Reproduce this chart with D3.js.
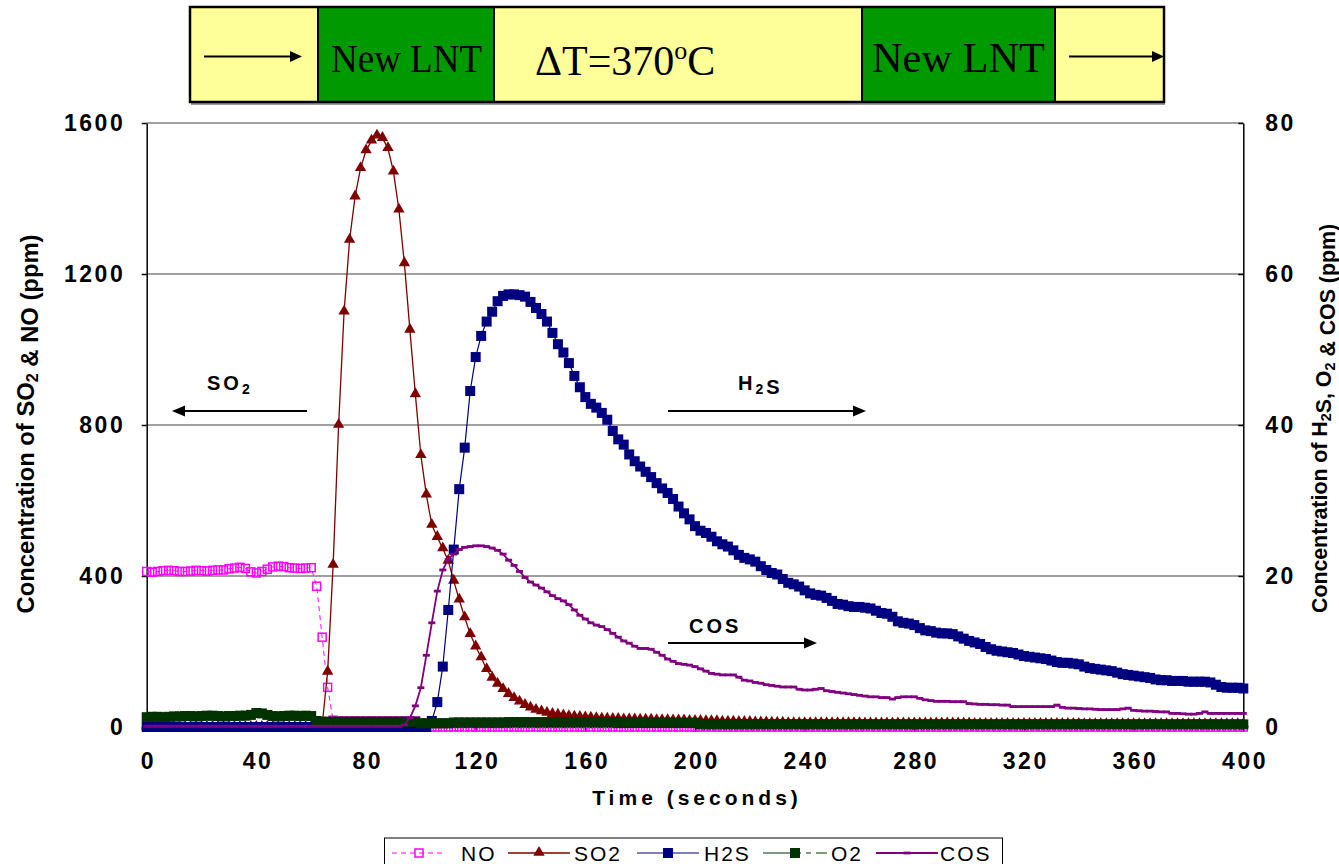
<!DOCTYPE html>
<html>
<head>
<meta charset="utf-8">
<script src="https://cdn.jsdelivr.net/npm/d3@7"></script>
<style>
  html, body { margin: 0; padding: 0; background: #ffffff; }
  svg { display: block; }
</style>
</head>
<body>
<svg id="chart" width="1339" height="864"></svg>
<script>
// Outlet concentrations after the two LNT bricks, sampled every 2 s from 0 to 400 s.
const sampleStep = 2;

// NO (ppm, left axis)
const noPpm = [
  412, 410, 412, 414, 415, 414, 412, 412, 413, 415,   // 0-18 s
  414, 413, 415, 416, 416, 419, 421, 423, 420, 411,   // 20-38 s
  408, 412, 418, 424, 426, 425, 422, 421, 420, 421,   // 40-58 s
  422, 373, 238, 105, 18,                             // 60-68 s
  16, 16, 16, 16, 16, 16, 16, 16, 16, 16, 16, 16, 16, 16, 16,   // 70-98 s
  0, 0, 0, 0, 0, 0, 0, 0, 0, 0, 0, 0, 0, 0, 0, 0, 0, 0, 0, 0,   // 100-138 s
  0, 0, 0, 0, 0, 0, 0, 0, 0, 0, 0, 0, 0, 0, 0, 0, 0, 0, 0, 0,   // 140-178 s
  0, 0, 0, 0, 0, 0, 0, 0, 0, 0, 0, 0, 0, 0, 0, 0, 0, 0, 0, 0,   // 180-218 s
  0, 0, 0, 0, 0, 0, 0, 0, 0, 0, 0, 0, 0, 0, 0, 0, 0, 0, 0, 0,   // 220-258 s
  0, 0, 0, 0, 0, 0, 0, 0, 0, 0, 0, 0, 0, 0, 0, 0, 0, 0, 0, 0,   // 260-298 s
  0, 0, 0, 0, 0, 0, 0, 0, 0, 0, 0, 0, 0, 0, 0, 0, 0, 0, 0, 0,   // 300-338 s
  0, 0, 0, 0, 0, 0, 0, 0, 0, 0, 0, 0, 0, 0, 0, 0, 0, 0, 0, 0,   // 340-378 s
  0, 0, 0, 0, 0, 0, 0, 0, 0, 0, 0                               // 380-400 s
];

// SO2 (ppm, left axis)
const so2Ppm = [
  0, 0, 0, 0, 0, 0, 0, 0, 0, 0, 0, 0, 0, 0, 0, 0,     // 0-30 s
  0, 0, 0, 0, 0, 0, 0, 0, 0, 0, 0, 0, 0, 0, 0, 0,     // 32-62 s
  5,                                                  // 64 s
  146, 429, 800, 1100, 1290, 1405, 1480, 1527, 1553,  // 66-82 s
  1566, 1560, 1533, 1471, 1370, 1228, 1052, 881,      // 84-98 s
  720, 615, 535, 503, 473, 440, 387, 337, 290, 246,   // 100-118 s
  213, 184, 153, 130, 114, 100, 87, 76, 67, 58,       // 120-138 s
  51, 45, 41, 37, 34, 32, 30, 28, 27, 26,             // 140-158 s
  25, 24, 23, 22, 22, 21, 21, 20, 20, 20,             // 160-178 s
  19, 19, 19, 18, 18, 18, 17, 17, 17, 16,             // 180-198 s
  16, 16, 15, 15, 15, 14, 14, 14, 13, 13,             // 200-218 s
  13, 12, 12, 12, 11, 11, 11,                         // 220-232 s
  10, 10, 10, 10, 10, 10, 10, 10, 10, 10, 10, 10, 10, 10,       // 234-260 s
  9, 9, 9, 9, 9, 9, 9, 9, 9, 9, 9, 9, 9, 9, 9, 9, 9, 9, 9, 9,   // 262-300 s
  8, 8, 8, 8, 8, 8, 8, 8, 8, 8, 8, 8, 8, 8, 8, 8, 8, 8, 8, 8,   // 302-340 s
  7, 7, 7, 7, 7, 7, 7, 7, 7, 7, 7, 7, 7, 7, 7,                  // 342-370 s
  7, 7, 7, 7, 7, 7, 7, 7, 7, 7, 7, 7, 7, 7, 7                   // 372-400 s
];

// H2S (ppm, right axis)
const h2sPpm = [
  0, 0, 0, 0, 0, 0, 0, 0, 0, 0, 0, 0, 0,             // 0-24 s
  0, 0, 0, 0, 0, 0, 0, 0, 0, 0, 0, 0, 0,             // 26-50 s
  0, 0, 0, 0, 0, 0, 0, 0, 0, 0, 0, 0, 0,             // 52-76 s
  0, 0, 0, 0, 0, 0, 0, 0, 0, 0, 0, 0, 0,             // 78-102 s
  0.8, 3.3, 8.0, 15.5, 23.5, 31.5, 37.0, 44.5, 49.0, 51.8,   // 104-122 s
  53.7, 55.0, 56.4, 57.1, 57.3, 57.3, 57.2, 57.0, 56.3, 55.5, // 124-142 s
  54.7, 53.7, 52.2, 50.7, 49.6, 48.2, 46.5, 45.0, 43.7, 42.8, // 144-162 s
  42.3, 41.6, 40.7, 39.2, 38.1, 37.4, 36.1, 35.2, 34.5, 33.8, // 164-182 s
  33.1, 32.3, 31.6, 31.0, 30.2, 29.2,                         // 184-194 s
  28.3, 27.5, 26.6, 26.0, 25.7, 25.2, 24.6, 24.2, 23.9, 23.4, // 196-214 s
  22.8, 22.4, 22.2, 21.9, 21.3, 20.8, 20.4, 20.2, 19.6, 19.1, // 216-234 s
  18.9, 18.6, 18.1, 17.7, 17.5, 17.4, 17.1, 16.7, 16.3, 16.2, // 236-254 s
  16.0, 15.9, 15.9, 15.8, 15.7, 15.4, 15.1, 15.0, 14.6, 14.0, // 256-274 s
  13.8, 13.7, 13.5, 13.1, 12.8, 12.7, 12.5, 12.4, 12.4, 12.3, // 276-294 s
  12.0, 11.7, 11.4, 11.2, 11.0, 10.6, 10.3, 10.1, 10.0, 9.9,  // 296-314 s
  9.8, 9.6, 9.4, 9.3, 9.2, 9.1, 9.0, 8.8, 8.6, 8.5,           // 316-334 s
  8.5, 8.4, 8.3, 8.0, 7.8, 7.7, 7.6, 7.5, 7.4, 7.2,           // 336-354 s
  7.0, 6.9, 6.8, 6.7, 6.6, 6.5, 6.3, 6.2, 6.2, 6.1,           // 356-374 s
  6.1, 6.1, 6.0, 6.0, 6.0, 6.0, 5.9, 5.6, 5.3, 5.2,           // 376-394 s
  5.2, 5.2, 5.1                                               // 396-400 s
];

// O2 (right axis)
const o2Ppm = [
  1.3, 1.35, 1.35, 1.3, 1.35, 1.4, 1.4, 1.45, 1.45, 1.4,     // 0-18 s
  1.45, 1.5, 1.5, 1.45, 1.4, 1.45, 1.45, 1.5, 1.5, 1.6,      // 20-38 s
  1.85, 1.8, 1.6, 1.45, 1.4, 1.45, 1.5, 1.5, 1.45, 1.5,      // 40-58 s
  1.45, 0.8,                                                 // 60-62 s
  0.7, 0.7, 0.7, 0.7, 0.7, 0.7, 0.7, 0.7, 0.7,               // 64-80 s
  0.7, 0.7, 0.7, 0.7, 0.7, 0.7, 0.7, 0.7, 0.7,               // 82-98 s
  0.5, 0.5, 0.5, 0.5, 0.5, 0.5,                              // 100-110 s
  0.6, 0.6, 0.6, 0.6, 0.6, 0.6, 0.6, 0.6, 0.6, 0.6,          // 112-130 s
  0.65, 0.65, 0.65, 0.65, 0.65, 0.65, 0.65, 0.65, 0.65, 0.65, // 132-150 s
  0.65, 0.65, 0.65, 0.65, 0.65, 0.65, 0.65, 0.65, 0.65, 0.65, // 152-170 s
  0.55, 0.55, 0.55, 0.55, 0.55, 0.55, 0.55, 0.55,            // 172-186 s
  0.55, 0.55, 0.55, 0.55, 0.55, 0.55, 0.55,                  // 188-200 s
  0.35, 0.35, 0.35, 0.35, 0.35, 0.35, 0.35, 0.35, 0.35, 0.35, // 202-220 s
  0.35, 0.35, 0.35, 0.35, 0.35, 0.35, 0.35, 0.35, 0.35, 0.35, // 222-240 s
  0.35, 0.35, 0.35, 0.35, 0.35, 0.35, 0.35, 0.35, 0.35, 0.35, // 242-260 s
  0.35, 0.35, 0.35, 0.35, 0.35, 0.35, 0.35, 0.35, 0.35, 0.35, // 262-280 s
  0.35, 0.35, 0.35, 0.35, 0.35, 0.35, 0.35, 0.35, 0.35, 0.35, // 282-300 s
  0.35, 0.35, 0.35, 0.35, 0.35, 0.35, 0.35, 0.35, 0.35, 0.35, // 302-320 s
  0.35, 0.35, 0.35, 0.35, 0.35, 0.35, 0.35, 0.35, 0.35, 0.35, // 322-340 s
  0.35, 0.35, 0.35, 0.35, 0.35, 0.35, 0.35, 0.35, 0.35, 0.35, // 342-360 s
  0.35, 0.35, 0.35, 0.35, 0.35, 0.35, 0.35, 0.35, 0.35, 0.35, // 362-380 s
  0.35, 0.35, 0.35, 0.35, 0.35, 0.35, 0.35, 0.35, 0.35, 0.35  // 382-400 s
];

// COS (ppm, right axis)
const cosPpm = [
  0.1, 0.1, 0.1, 0.1, 0.1, 0.1, 0.1, 0.1, 0.1, 0.1, 0.1, 0.1,  // 0-22 s
  0.1, 0.1, 0.1, 0.1, 0.1, 0.1, 0.1, 0.1, 0.1, 0.1, 0.1, 0.1,  // 24-46 s
  0.1, 0.1, 0.1, 0.1, 0.1, 0.1, 0.1, 0.1, 0.1, 0.1, 0.1, 0.1,  // 48-70 s
  0.1, 0.1, 0.1, 0.1, 0.1, 0.1, 0.1, 0.1, 0.1, 0.1, 0.1,       // 72-92 s
  0.3, 1.2, 2.8, 5.2, 9.5, 13.8, 18.0, 20.8, 22.2, 22.9,       // 94-112 s
  23.5, 23.8, 23.9, 24.0, 24.0, 23.9, 23.7, 23.4, 22.9, 22.1,  // 114-132 s
  21.4, 20.6, 19.8, 19.2, 18.8, 18.4, 17.9, 17.4, 17.0, 16.7,  // 134-152 s
  16.2, 15.5, 14.8, 14.3, 13.8, 13.5, 13.3, 12.9, 12.4, 11.9,  // 154-172 s
  11.4, 11.1, 10.7, 10.4, 10.4, 10.3, 9.9, 9.5, 9.0, 8.7,      // 174-192 s
  8.4, 8.3, 8.2, 8.0, 7.7, 7.4, 7.1, 7.0, 6.9, 6.9,            // 194-212 s
  6.9, 6.6, 6.2, 6.1, 5.9, 5.8, 5.6, 5.5, 5.4, 5.3,            // 214-232 s
  5.3, 5.3, 5.0, 4.9, 4.9, 5.0, 5.1, 4.8, 4.7, 4.6,            // 234-252 s
  4.5, 4.4, 4.3, 4.2, 4.1, 4.0, 4.0, 3.9, 3.9, 3.7,            // 254-272 s
  3.9, 4.0, 4.0, 4.0, 3.8, 3.6, 3.5, 3.4, 3.4, 3.4,            // 274-292 s
  3.35, 3.35, 3.35, 3.1, 3.05, 3.0, 3.0, 2.95, 2.95, 2.9,      // 294-312 s
  2.9, 2.7, 2.7, 2.7, 2.7, 2.7, 2.7, 2.7, 2.7, 2.9,            // 314-332 s
  2.6, 2.5, 2.5, 2.45, 2.4, 2.4, 2.35, 2.3, 2.3, 2.3,          // 334-352 s
  2.3, 2.4, 2.5, 2.2, 2.15, 2.1, 2.1, 2.05, 2.0, 2.0,          // 354-372 s
  1.8, 1.8, 1.75, 1.7, 1.7, 1.8, 2.0, 1.8, 1.8, 1.8,           // 374-392 s
  1.8, 1.8, 1.8, 1.8                                           // 394-400 s
];

const timeTicks = [0, 40, 80, 120, 160, 200, 240, 280, 320, 360, 400];
const leftTicks = [0, 400, 800, 1200, 1600];
const rightTicks = [0, 20, 40, 60, 80];

const sampleTimes = noPpm.map((_, i) => i * sampleStep);

// ---------------------------------------------------------------------------
const svg = d3.select('#chart');
const plot = { left: 146.7, right: 1243.3, top: 123, bottom: 727 };

const x = d3.scaleLinear().domain([0, 400]).range([plot.left, plot.right]);
const yLeft = d3.scaleLinear().domain([0, 1600]).range([plot.bottom, plot.top]);
const yRight = d3.scaleLinear().domain([0, 80]).range([plot.bottom, plot.top]);

const sansBold = { family: "'Liberation Sans', Arial, sans-serif", weight: 'bold' };

// ---------- banner across the top (reactor layout) ----------
const banner = svg.append('g').attr('class', 'banner');
const bannerTop = 7, bannerBottom = 102;
const bannerCells = [
  { x0: 190, x1: 318, fill: '#FFFF99' },
  { x0: 318, x1: 494, fill: '#009900' },
  { x0: 494, x1: 862, fill: '#FFFF99' },
  { x0: 862, x1: 1055, fill: '#009900' },
  { x0: 1055, x1: 1164, fill: '#FFFF99' }
];
banner.append('rect')
  .attr('x', 191).attr('y', bannerBottom).attr('width', 974).attr('height', 3)
  .attr('fill', '#9a9a9a');
banner.selectAll('rect.cell').data(bannerCells).join('rect')
  .attr('class', 'cell')
  .attr('x', d => d.x0).attr('y', bannerTop)
  .attr('width', d => d.x1 - d.x0).attr('height', bannerBottom - bannerTop)
  .attr('fill', d => d.fill)
  .attr('stroke', '#000').attr('stroke-width', 2);
banner.append('rect')
  .attr('x', 190).attr('y', bannerTop).attr('width', 974).attr('height', bannerBottom - bannerTop)
  .attr('fill', 'none').attr('stroke', '#000').attr('stroke-width', 2.5);

function drawArrow(g, x1, x2, y, w, headLen, headHalf) {
  const dir = Math.sign(x2 - x1);
  g.append('line')
    .attr('x1', x1).attr('x2', x2 - dir * headLen * 0.6)
    .attr('y1', y).attr('y2', y)
    .attr('stroke', '#000').attr('stroke-width', w);
  g.append('path')
    .attr('d', `M${x2},${y} L${x2 - dir * headLen},${y - headHalf} L${x2 - dir * headLen},${y + headHalf} Z`)
    .attr('fill', '#000');
}
drawArrow(banner, 204, 302, 56.5, 2, 12, 5.5);
drawArrow(banner, 1069, 1164, 56.5, 2, 12, 5.5);

const serif = "'Liberation Serif', 'Times New Roman', serif";
banner.append('text')
  .attr('x', 331).attr('y', 71.5)
  .attr('font-family', serif).attr('font-size', 40)
  .attr('textLength', 151).attr('lengthAdjust', 'spacingAndGlyphs')
  .text('New LNT');
banner.append('text')
  .attr('x', 872).attr('y', 71.5)
  .attr('font-family', serif).attr('font-size', 42)
  .attr('textLength', 173).attr('lengthAdjust', 'spacingAndGlyphs')
  .text('New LNT');
const dT = banner.append('text')
  .attr('x', 535).attr('y', 75)
  .attr('font-family', serif).attr('font-size', 42);
dT.append('tspan').text('\u0394T=370');
dT.append('tspan').attr('font-size', 26).attr('dy', -16).text('o');
dT.append('tspan').attr('dy', 16).text('C');

// ---------- gridlines ----------
svg.append('g').attr('class', 'grid')
  .selectAll('line').data(leftTicks.filter(v => v > 0)).join('line')
  .attr('x1', plot.left).attr('x2', plot.right)
  .attr('y1', d => yLeft(d)).attr('y2', d => yLeft(d))
  .attr('stroke', '#808080').attr('stroke-width', 1.5);

// ---------- axes ----------
const tickFont = 23, tickSpacing = 2.5;
function styleAxis(g) {
  g.select('.domain').attr('stroke', '#000').attr('stroke-width', 1.5);
  g.selectAll('.tick line').attr('stroke', '#000').attr('stroke-width', 1.5);
  g.selectAll('.tick text')
    .attr('fill', '#000')
    .attr('font-family', sansBold.family).attr('font-weight', sansBold.weight)
    .attr('font-size', tickFont)
    .attr('letter-spacing', tickSpacing);
}

const axisB = svg.append('g').attr('transform', `translate(0,${plot.bottom})`)
  .call(d3.axisBottom(x).tickValues(timeTicks).tickSizeInner(5).tickSizeOuter(0).tickPadding(21).tickFormat(d3.format('d')));
styleAxis(axisB);
axisB.selectAll('.tick text').attr('dx', tickSpacing / 2);

const axisL = svg.append('g').attr('transform', `translate(${plot.left},0)`)
  .call(d3.axisLeft(yLeft).tickValues(leftTicks).tickSizeInner(5).tickSizeOuter(0).tickPadding(19).tickFormat(d3.format('d')));
styleAxis(axisL);
axisL.selectAll('.tick text').attr('dx', tickSpacing);

const axisR = svg.append('g').attr('transform', `translate(${plot.right},0)`)
  .call(d3.axisRight(yRight).tickValues(rightTicks).tickSizeInner(-5).tickSizeOuter(0).tickPadding(22).tickFormat(d3.format('d')));
styleAxis(axisR);

// axis titles
svg.append('text')
  .attr('x', (plot.left + plot.right) / 2 + 2).attr('y', 805)
  .attr('text-anchor', 'middle')
  .attr('font-family', sansBold.family).attr('font-weight', 'bold')
  .attr('font-size', 21).attr('letter-spacing', 4)
  .text('Time (seconds)');

function rotatedTitle(cx, cy, size, length, parts) {
  const t = svg.append('text')
    .attr('transform', `translate(${cx},${cy}) rotate(-90)`)
    .attr('text-anchor', 'middle')
    .attr('font-family', sansBold.family).attr('font-weight', 'bold')
    .attr('font-size', size)
    .attr('textLength', length).attr('lengthAdjust', 'spacingAndGlyphs');
  parts.forEach(p => {
    if (p.sub) {
      t.append('tspan').attr('font-size', size * 0.68).attr('dy', 4).text(p.text);
      t.append('tspan').attr('dy', -4).text('');
    } else {
      t.append('tspan').text(p.text);
    }
  });
}
rotatedTitle(34, 424, 23, 379, [
  { text: 'Concentration of SO' }, { text: '2', sub: true }, { text: ' & NO (ppm)' }
]);
rotatedTitle(1327, 418.5, 22, 389, [
  { text: 'Concentration of H' }, { text: '2', sub: true }, { text: 'S, O' },
  { text: '2', sub: true }, { text: ' & COS (ppm)' }
]);

// ---------- series ----------
const seriesDefs = [
  { key: 'NO',  label: 'NO',  values: noPpm,  y: yLeft,  color: '#FF00FF', width: 1,   dash: '5,4',            marker: 'hollowSquare' },
  { key: 'SO2', label: 'SO2', values: so2Ppm, y: yLeft,  color: '#800000', width: 1.3, dash: null,             marker: 'triangle' },
  { key: 'H2S', label: 'H2S', values: h2sPpm, y: yRight, color: '#000080', width: 1.2, dash: null,             marker: 'square' },
  { key: 'O2',  label: 'O2',  values: o2Ppm,  y: yRight, color: '#003300', width: 1.2, dash: '28,5,5,5,5,5',   marker: 'square' },
  { key: 'COS', label: 'COS', values: cosPpm, y: yRight, color: '#800080', width: 1.8, dash: null,             marker: 'dash' }
];

const triSymbol = d3.symbol().type(d3.symbolTriangle).size(56);

function drawMarkers(g, pts, def) {
  if (def.marker === 'hollowSquare') {
    g.selectAll('rect').data(pts).join('rect')
      .attr('x', d => d[0] - 4).attr('y', d => d[1] - 4)
      .attr('width', 8).attr('height', 8)
      .attr('fill', 'none').attr('stroke', def.color).attr('stroke-width', 1.5);
  } else if (def.marker === 'triangle') {
    g.selectAll('path').data(pts).join('path')
      .attr('transform', d => `translate(${d[0]},${d[1] - 0.5})`)
      .attr('d', triSymbol)
      .attr('fill', def.color);
  } else if (def.marker === 'square') {
    g.selectAll('rect').data(pts).join('rect')
      .attr('x', d => d[0] - 5).attr('y', d => d[1] - 5)
      .attr('width', 10).attr('height', 10)
      .attr('fill', def.color);
  } else if (def.marker === 'dash') {
    g.selectAll('rect').data(pts).join('rect')
      .attr('x', d => d[0] - 3.5).attr('y', d => d[1] - 1.4)
      .attr('width', 7).attr('height', 2.8)
      .attr('fill', def.color);
  }
}

const seriesLayer = svg.append('g').attr('class', 'series');
seriesDefs.forEach(def => {
  const pts = def.values.map((v, i) => [x(sampleTimes[i]), def.y(v)]);
  const g = seriesLayer.append('g').attr('class', `series-${def.key}`);
  g.append('path')
    .attr('d', d3.line()(pts))
    .attr('fill', 'none')
    .attr('stroke', def.color)
    .attr('stroke-width', def.width)
    .attr('stroke-dasharray', def.dash);
  drawMarkers(g.append('g'), pts, def);
});

// ---------- annotations ----------
const notes = svg.append('g').attr('class', 'notes')
  .attr('font-family', sansBold.family).attr('font-weight', 'bold')
  .attr('font-size', 20).attr('letter-spacing', 3);

function noteText(xPos, yPos, parts) {
  const t = notes.append('text').attr('x', xPos).attr('y', yPos);
  parts.forEach(p => {
    if (p.sub) {
      t.append('tspan').attr('font-size', 14).attr('dy', 4).text(p.text);
      t.append('tspan').attr('dy', -4).text('');
    } else {
      t.append('tspan').text(p.text);
    }
  });
}
noteText(207, 390, [{ text: 'SO' }, { text: '2', sub: true }]);
drawArrow(notes, 307, 172, 411, 2, 13, 5.5);
noteText(738, 390, [{ text: 'H' }, { text: '2', sub: true }, { text: 'S' }]);
drawArrow(notes, 668, 866, 411, 2, 13, 5.5);
noteText(689, 633, [{ text: 'COS' }]);
drawArrow(notes, 668, 817, 643, 2, 13, 5.5);

// ---------- legend ----------
const legend = svg.append('g').attr('class', 'legend');
legend.append('rect')
  .attr('x', 384.5).attr('y', 838).attr('width', 618).attr('height', 34)
  .attr('fill', '#fff').attr('stroke', '#000').attr('stroke-width', 1);

const legendSlots = [
  { key: 'NO',  x0: 392, x1: 446, tx: 461 },
  { key: 'SO2', x0: 508, x1: 570, tx: 574 },
  { key: 'H2S', x0: 637, x1: 699, tx: 704 },
  { key: 'O2',  x0: 763, x1: 827, tx: 831 },
  { key: 'COS', x0: 876, x1: 938, tx: 940 }
];
const legendY = 853;
legendSlots.forEach(slot => {
  const def = seriesDefs.find(s => s.key === slot.key);
  const g = legend.append('g');
  g.append('line')
    .attr('x1', slot.x0).attr('x2', slot.x1)
    .attr('y1', legendY).attr('y2', legendY)
    .attr('stroke', def.color).attr('stroke-width', def.width)
    .attr('stroke-dasharray', def.dash);
  drawMarkers(g.append('g'), [[(slot.x0 + slot.x1) / 2, legendY]], def);
  g.append('text')
    .attr('x', slot.tx).attr('y', legendY + 7.5)
    .attr('font-family', "'Liberation Sans', Arial, sans-serif")
    .attr('font-size', 21).attr('letter-spacing', 2)
    .attr('fill', '#000')
    .text(def.label);
});
</script>
</body>
</html>
